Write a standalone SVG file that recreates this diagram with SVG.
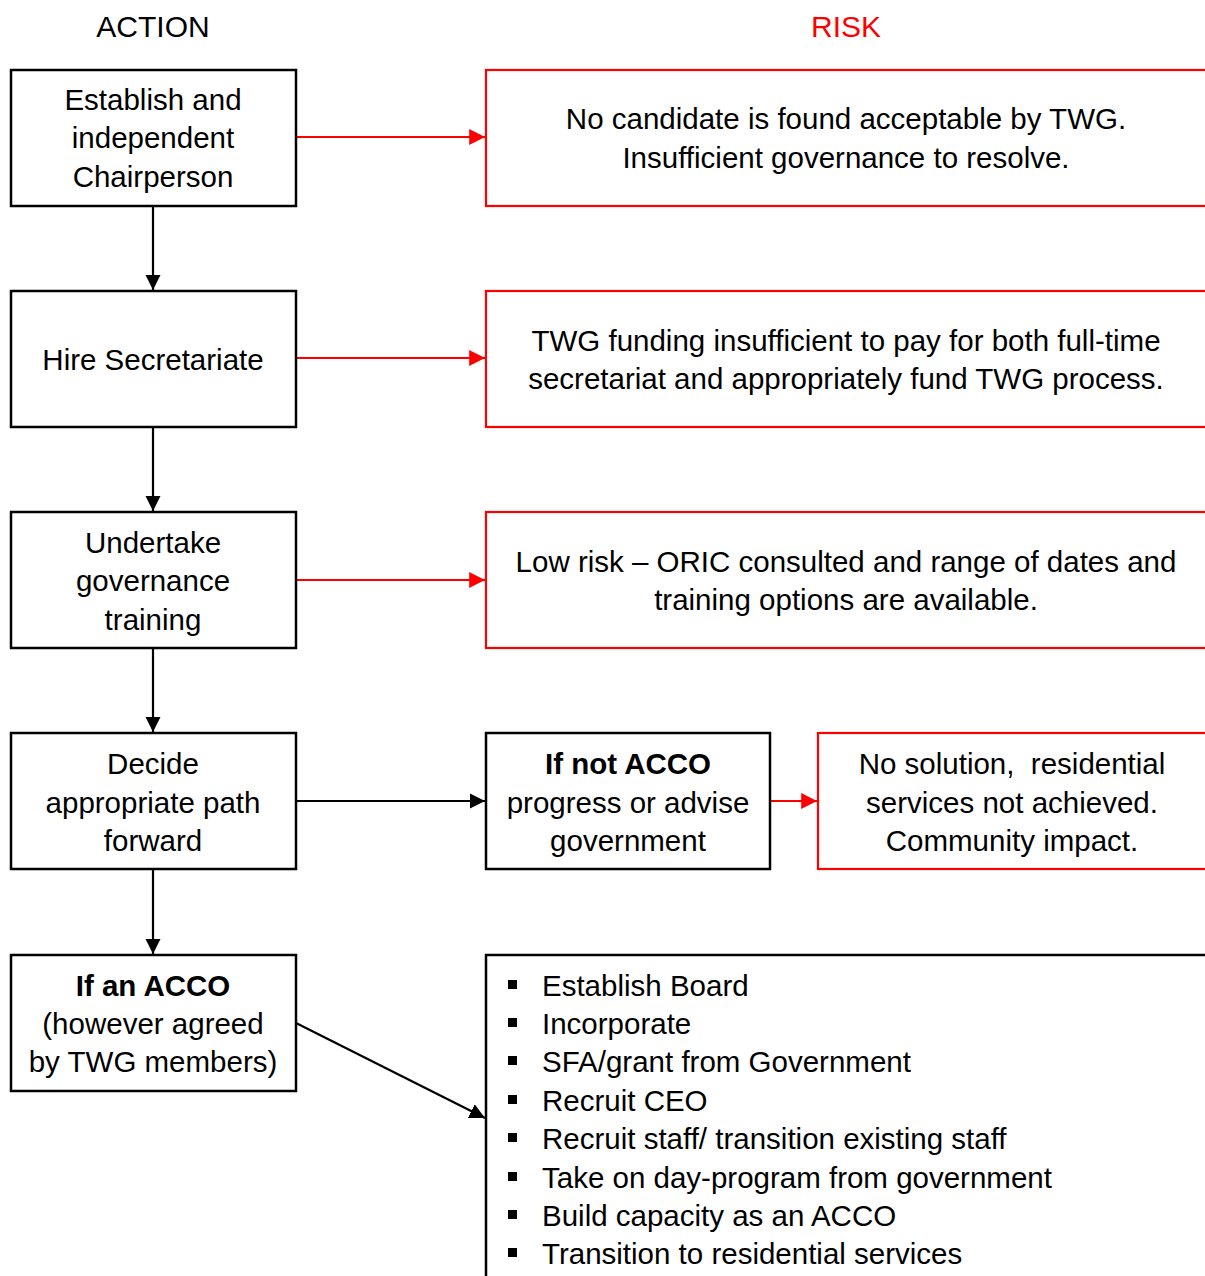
<svg xmlns="http://www.w3.org/2000/svg" width="1205" height="1276" viewBox="0 0 1205 1276">
<style>
  text { font-family: "Liberation Sans", Arial, sans-serif; font-size: 29.5px; fill: #000; }
  .c { text-anchor: middle; }
  .b { font-weight: bold; }
  .hdr { font-size: 30px; }
  .red { fill: #FF0000; }
  .box { fill: #fff; stroke: #000; stroke-width: 2.5; }
  .rbox { fill: #fff; stroke: #FF0000; stroke-width: 2.2; }
  .ln { fill: none; stroke: #000; stroke-width: 2.2; }
  .rln { fill: none; stroke: #FF0000; stroke-width: 2.2; }
</style>
<defs>
  <marker id="ab" viewBox="0 0 10 10" refX="10" refY="5" markerWidth="7" markerHeight="7" orient="auto" markerUnits="strokeWidth">
    <path d="M0,0 L10,5 L0,10 z" fill="#000"/>
  </marker>
  <marker id="ar" viewBox="0 0 10 10" refX="10" refY="5" markerWidth="7.2" markerHeight="7.2" orient="auto" markerUnits="strokeWidth">
    <path d="M0,0 L10,5 L0,10 z" fill="#FF0000"/>
  </marker>
</defs>
<rect width="1205" height="1276" fill="#fff"/>

<text class="c hdr" x="153" y="37">ACTION</text>
<text class="c hdr red" x="846" y="37">RISK</text>

<g id="connectors">
  <line class="ln" x1="153" y1="206" x2="153" y2="290" marker-end="url(#ab)"/>
  <line class="ln" x1="153" y1="427" x2="153" y2="511" marker-end="url(#ab)"/>
  <line class="ln" x1="153" y1="648" x2="153" y2="732" marker-end="url(#ab)"/>
  <line class="ln" x1="153" y1="869" x2="153" y2="954" marker-end="url(#ab)"/>
  <line class="rln" x1="296" y1="137" x2="485" y2="137" marker-end="url(#ar)"/>
  <line class="rln" x1="296" y1="358" x2="485" y2="358" marker-end="url(#ar)"/>
  <line class="rln" x1="296" y1="580" x2="485" y2="580" marker-end="url(#ar)"/>
  <line class="ln" x1="296" y1="801" x2="485" y2="801" marker-end="url(#ab)"/>
  <line class="rln" x1="770" y1="801" x2="817" y2="801" marker-end="url(#ar)"/>
  <line class="ln" x1="296" y1="1023" x2="485" y2="1118" marker-end="url(#ab)"/>
</g>

<g id="n1">
  <rect class="box" x="11" y="70" width="285" height="136"/>
  <text class="c" x="153" y="110">Establish and</text>
  <text class="c" x="153" y="148">independent</text>
  <text class="c" x="153" y="187">Chairperson</text>
</g>
<g id="n2">
  <rect class="box" x="11" y="291" width="285" height="136"/>
  <text class="c" x="153" y="370">Hire Secretariate</text>
</g>
<g id="n3">
  <rect class="box" x="11" y="512" width="285" height="136"/>
  <text class="c" x="153" y="553">Undertake</text>
  <text class="c" x="153" y="591">governance</text>
  <text class="c" x="153" y="630">training</text>
</g>
<g id="n4">
  <rect class="box" x="11" y="733" width="285" height="136"/>
  <text class="c" x="153" y="774">Decide</text>
  <text class="c" x="153" y="813">appropriate path</text>
  <text class="c" x="153" y="851">forward</text>
</g>
<g id="n5">
  <rect class="box" x="11" y="955" width="285" height="136"/>
  <text class="c b" x="153" y="996">If an ACCO</text>
  <text class="c" x="153" y="1034">(however agreed</text>
  <text class="c" x="153" y="1072">by TWG members)</text>
</g>

<g id="r1">
  <rect class="rbox" x="486" y="70" width="740" height="136"/>
  <text class="c" x="846" y="129">No candidate is found acceptable by TWG.</text>
  <text class="c" x="846" y="168">Insufficient governance to resolve.</text>
</g>
<g id="r2">
  <rect class="rbox" x="486" y="291" width="740" height="136"/>
  <text class="c" x="846" y="351">TWG funding insufficient to pay for both full-time</text>
  <text class="c" x="846" y="389">secretariat and appropriately fund TWG process.</text>
</g>
<g id="r3">
  <rect class="rbox" x="486" y="512" width="740" height="136"/>
  <text class="c" x="846" y="572">Low risk – ORIC consulted and range of dates and</text>
  <text class="c" x="846" y="610">training options are available.</text>
</g>
<g id="n6">
  <rect class="box" x="486" y="733" width="284" height="136"/>
  <text class="c b" x="628" y="774">If not ACCO</text>
  <text class="c" x="628" y="813">progress or advise</text>
  <text class="c" x="628" y="851">government</text>
</g>
<g id="r4">
  <rect class="rbox" x="818" y="733" width="420" height="136"/>
  <text class="c" x="1012" y="774" xml:space="preserve">No solution,  residential</text>
  <text class="c" x="1012" y="813">services not achieved.</text>
  <text class="c" x="1012" y="851">Community impact.</text>
</g>
<g id="n7">
  <rect class="box" x="486" y="955" width="740" height="340"/>
  <g fill="#000">
    <rect x="508" y="980" width="9" height="9"/>
    <rect x="508" y="1018" width="9" height="9"/>
    <rect x="508" y="1056" width="9" height="9"/>
    <rect x="508" y="1095" width="9" height="9"/>
    <rect x="508" y="1133" width="9" height="9"/>
    <rect x="508" y="1172" width="9" height="9"/>
    <rect x="508" y="1210" width="9" height="9"/>
    <rect x="508" y="1248" width="9" height="9"/>
  </g>
  <text x="542" y="996">Establish Board</text>
  <text x="542" y="1034">Incorporate</text>
  <text x="542" y="1072">SFA/grant from Government</text>
  <text x="542" y="1111">Recruit CEO</text>
  <text x="542" y="1149">Recruit staff/ transition existing staff</text>
  <text x="542" y="1188">Take on day-program from government</text>
  <text x="542" y="1226">Build capacity as an ACCO</text>
  <text x="542" y="1264">Transition to residential services</text>
</g>
</svg>
